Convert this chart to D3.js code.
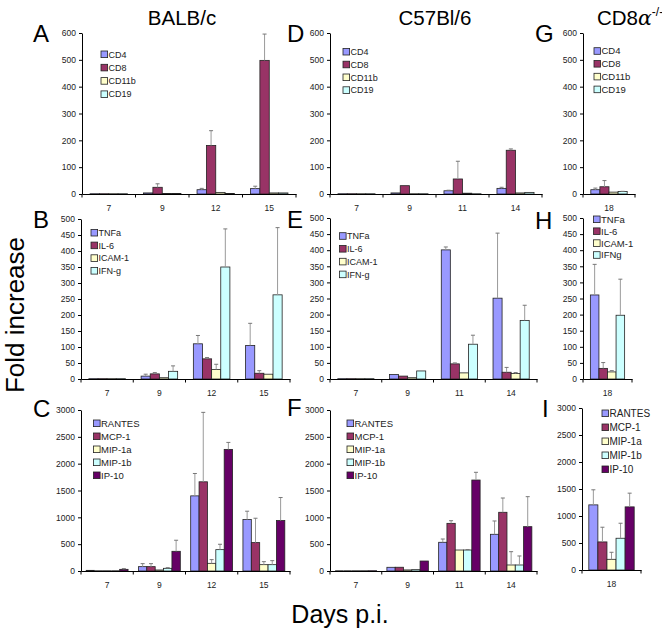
<!DOCTYPE html>
<html>
<head>
<meta charset="utf-8">
<script src="https://cdn.jsdelivr.net/npm/d3@7"></script>
<style>
  html, body { margin: 0; padding: 0; background: #fff; }
  svg { display: block; font-family: "Liberation Sans", Arial, sans-serif; }
</style>
</head>
<body>
<script>
// ---------------- DATA ----------------
const daysBALB = ["7", "9", "12", "15"];
const daysC57 = ["7", "9", "11", "14"];
const daysCD8 = ["18"];

const cellSeries = ["CD4", "CD8", "CD11b", "CD19"];
const cytoSeries = ["TNFa", "IL-6", "ICAM-1", "IFN-g"];
const cytoSeriesCD8 = ["TNFa", "IL-6", "ICAM-1", "IFNg"];
const chemoSeries = ["RANTES", "MCP-1", "MIP-1a", "MIP-1b", "IP-10"];

const cellTicks = [0, 100, 200, 300, 400, 500, 600];
const cytoTicks = [0, 50, 100, 150, 200, 250, 300, 350, 400, 450, 500];
const chemoTicks = [0, 500, 1000, 1500, 2000, 2500, 3000];

// means [series][day], errTop = mean + error bar
const A_mean = [[1, 4, 16, 20], [1, 25, 181, 498], [1, 2, 6, 4], [1, 2, 2, 4]];
const A_top  = [[1, 4, 21, 29], [1, 38, 236, 596], [1, 2, 6, 4], [1, 2, 2, 4]];
const D_mean = [[1, 4, 12, 21], [1, 31, 56, 163], [1, 1, 3, 4], [1, 1, 1, 6]];
const D_top  = [[1, 4, 14, 25], [1, 31, 122, 168], [1, 1, 3, 4], [1, 1, 1, 6]];
const G_mean = [[16], [27], [7], [9]];
const G_top  = [[22], [50], [7], [10]];

const B_mean = [[1, 9, 110, 105], [1, 16, 63, 18], [1, 4, 30, 15], [1, 24, 350, 263]];
const B_top  = [[1, 15, 136, 174], [1, 20, 67, 26], [1, 4, 46, 15], [1, 41, 469, 473]];
const E_mean = [[1, 14, 401, 251], [1, 9, 47, 21], [1, 4, 19, 17], [1, 25, 108, 182]];
const E_top  = [[1, 14, 410, 453], [1, 9, 50, 36], [1, 4, 19, 20], [1, 25, 136, 229]];
const H_mean = [[261], [33], [22], [198]];
const H_top  = [[356], [51], [26], [310]];

const C_mean = [[12, 81, 1400, 958], [0, 81, 1662, 529], [0, 19, 143, 118], [0, 50, 398, 118], [31, 367, 2266, 940]];
const C_top  = [[12, 137, 1817, 1114], [0, 137, 2956, 983], [0, 19, 212, 174], [0, 62, 498, 193], [44, 573, 2396, 1369]];
const F_mean = [[0, 69, 535, 684], [0, 70, 888, 1094], [0, 20, 391, 112], [0, 25, 391, 112], [5, 186, 1695, 826]];
const F_top  = [[0, 69, 596, 932], [0, 70, 937, 1360], [0, 20, 391, 360], [0, 25, 400, 280], [5, 186, 1839, 1385]];
const I_mean = [[1206], [520], [198], [588], [1169]];
const I_top  = [[1485], [792], [328], [866], [1423]];

const seriesColors = ["#9999ff", "#993366", "#ffffcc", "#ccffff", "#660066"];

// ---------------- LAYOUT ----------------
const W = 662, H = 632;
const svg = d3.select("body").append("svg").attr("width", W).attr("height", H);

const panels = [
  { letter: "A", lx: 33, ly: 42, days: daysBALB, series: cellSeries, mean: A_mean, top: A_top, ticks: cellTicks,
    x0: 82, x1: 296, yT: 33, yB: 194, leg: [101, 54.3, 13.3, 9] },
  { letter: "D", lx: 287, ly: 42, days: daysC57, series: cellSeries, mean: D_mean, top: D_top, ticks: cellTicks,
    x0: 330, x1: 542, yT: 33, yB: 194, leg: [343, 51.7, 12.8, 9] },
  { letter: "G", lx: 535, ly: 42, days: daysCD8, series: cellSeries, mean: G_mean, top: G_top, ticks: cellTicks,
    x0: 583, x1: 635, yT: 33, yB: 194, leg: [594, 51, 12.8, 9.5] },
  { letter: "B", lx: 33, ly: 228, days: daysBALB, series: cytoSeries, mean: B_mean, top: B_top, ticks: cytoTicks,
    x0: 81, x1: 290, yT: 219, yB: 379, leg: [91, 232.7, 12.7, 9] },
  { letter: "E", lx: 287, ly: 228, days: daysC57, series: cytoSeries, mean: E_mean, top: E_top, ticks: cytoTicks,
    x0: 330, x1: 537, yT: 218, yB: 379, leg: [339.5, 236, 12.8, 9] },
  { letter: "H", lx: 535, ly: 229, days: daysCD8, series: cytoSeriesCD8, mean: H_mean, top: H_top, ticks: cytoTicks,
    x0: 583, x1: 632, yT: 218, yB: 379, leg: [593.5, 219.3, 11.9, 9.5] },
  { letter: "C", lx: 33, ly: 417, days: daysBALB, series: chemoSeries, mean: C_mean, top: C_top, ticks: chemoTicks,
    x0: 81, x1: 290, yT: 410, yB: 571, leg: [93.5, 423.3, 13, 9.5] },
  { letter: "F", lx: 287, ly: 416, days: daysC57, series: chemoSeries, mean: F_mean, top: F_top, ticks: chemoTicks,
    x0: 330, x1: 537, yT: 410, yB: 571, leg: [347, 423.3, 13, 9.5] },
  { letter: "I", lx: 542, ly: 417, days: daysCD8, series: chemoSeries, mean: I_mean, top: I_top, ticks: chemoTicks,
    x0: 582, x1: 641, yT: 408, yB: 570, leg: [602, 413.3, 14, 10] }
];

panels.forEach(p => {
  const g = svg.append("g");
  const yMax = p.ticks[p.ticks.length - 1];
  const y = d3.scaleLinear().domain([0, yMax]).range([p.yB, p.yT]);
  const x = d3.scaleBand().domain(p.days).range([p.x0, p.x1]).padding(0);
  const nS = p.series.length;
  const outer = nS === 4 ? 0.86 : (p.days.length === 1 ? 0.75 : 0.62);
  const xs = d3.scaleBand().domain(d3.range(nS)).range([0, x.bandwidth()]).paddingInner(0).paddingOuter(outer);

  // bars
  p.series.forEach((s, si) => {
    p.days.forEach((d, di) => {
      const v = p.mean[si][di];
      const t = p.top[si][di];
      const bx = x(d) + xs(si);
      const bw = xs.bandwidth();
      if (v > 0) {
        g.append("rect")
          .attr("x", bx).attr("y", y(v))
          .attr("width", bw).attr("height", Math.max(0, y(0) - y(v)))
          .attr("fill", seriesColors[si])
          .attr("stroke", "#222").attr("stroke-width", 0.8);
      } else {
        g.append("line").attr("x1", bx).attr("x2", bx + bw)
          .attr("y1", y(0) - 0.5).attr("y2", y(0) - 0.5)
          .attr("stroke", "#444").attr("stroke-width", 0.8);
      }
      if (t > v + 0.5) {
        const cx = bx + bw / 2;
        g.append("line").attr("x1", cx).attr("x2", cx)
          .attr("y1", y(v)).attr("y2", y(t))
          .attr("stroke", "#9a9a9a").attr("stroke-width", 1);
        g.append("line").attr("x1", cx - 2).attr("x2", cx + 2)
          .attr("y1", y(t)).attr("y2", y(t))
          .attr("stroke", "#777").attr("stroke-width", 1);
      }
    });
  });

  // y axis
  const ya = g.append("g").attr("transform", `translate(${p.x0},0)`)
    .call(d3.axisLeft(y).tickValues(p.ticks).tickFormat(d3.format("d"))
      .tickSize(3).tickPadding(3).tickSizeOuter(0));
  ya.select(".domain").attr("stroke", "#000");
  ya.selectAll(".tick line").attr("stroke", "#000");
  ya.selectAll(".tick text").attr("font-size", 8.5).attr("fill", "#222")
    .attr("font-family", "Liberation Sans, Arial, sans-serif");

  // x axis
  const xa = g.append("g").attr("transform", `translate(0,${p.yB})`)
    .call(d3.axisBottom(x).tickSize(0).tickPadding(11).tickSizeOuter(0));
  xa.select(".domain").attr("stroke", "#000");
  xa.selectAll(".tick text").attr("font-size", 8.5).attr("fill", "#222")
    .attr("font-family", "Liberation Sans, Arial, sans-serif");
  const bounds = p.days.map(d => x(d)).concat([x(p.days[p.days.length - 1]) + x.bandwidth()]);
  xa.selectAll(".bound").data(bounds).enter().append("line")
    .attr("x1", d => d).attr("x2", d => d).attr("y1", 0).attr("y2", 3.5)
    .attr("stroke", "#000");

  // legend
  const [lx, ly0, ldy, lfs] = p.leg;
  p.series.forEach((s, si) => {
    const cy = ly0 + si * ldy;
    g.append("rect").attr("x", lx).attr("y", cy - 3.3).attr("width", 6.6).attr("height", 6.6)
      .attr("fill", seriesColors[si]).attr("stroke", "#222").attr("stroke-width", 0.8);
    g.append("text").attr("x", lx + 7.5).attr("y", cy).attr("dy", "0.36em")
      .attr("font-size", lfs).attr("fill", "#222").text(s);
  });

  // panel letter
  svg.append("text").attr("x", p.lx).attr("y", p.ly)
    .attr("font-size", 24).attr("fill", "#000").text(p.letter);
});

// column titles
svg.append("text").attr("x", 182).attr("y", 25).attr("text-anchor", "middle")
  .attr("font-size", 20.5).text("BALB/c");
svg.append("text").attr("x", 435).attr("y", 25).attr("text-anchor", "middle")
  .attr("font-size", 20.5).text("C57Bl/6");
const t3 = svg.append("text").attr("x", 597).attr("y", 25).attr("font-size", 20.5);
t3.append("tspan").text("CD8");
t3.append("tspan").attr("font-family", "DejaVu Serif, serif").attr("font-style", "italic").text("α");
t3.append("tspan").attr("font-size", 12).attr("dy", -9).text("-/-");

// axis titles
svg.append("text").attr("transform", "translate(24,315) rotate(-90)")
  .attr("text-anchor", "middle").attr("font-size", 26).text("Fold increase");
svg.append("text").attr("x", 340).attr("y", 623).attr("text-anchor", "middle")
  .attr("font-size", 25).text("Days p.i.");
</script>
</body>
</html>
